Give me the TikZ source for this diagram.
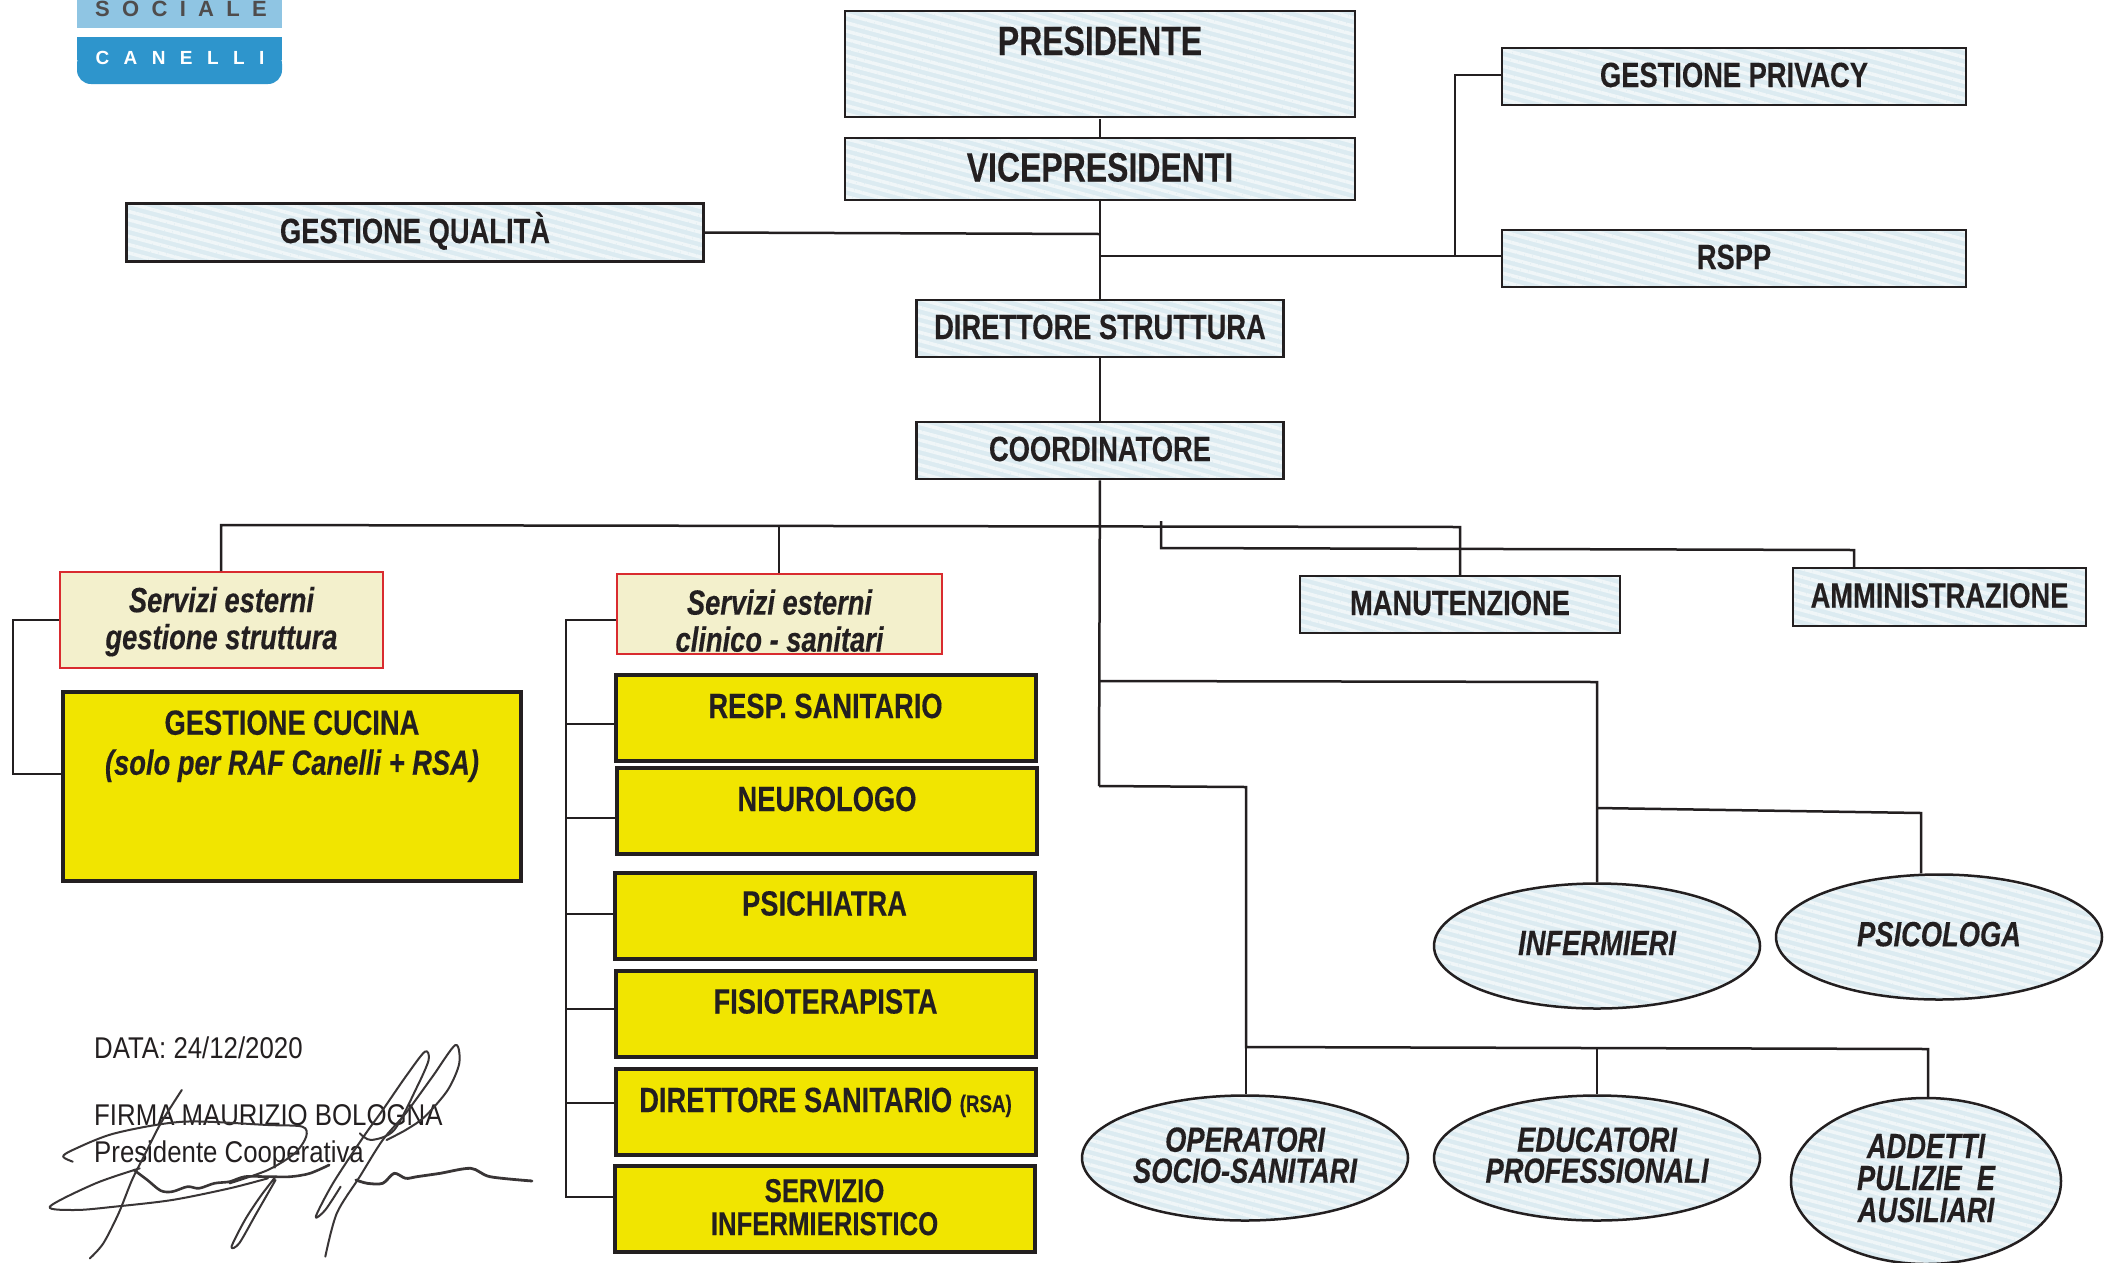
\documentclass[tikz,border=0pt]{standalone}
\usepackage{fontspec}
\setmainfont[FakeStretch=0.78, BoldFeatures={FakeBold=0.25}, BoldItalicFeatures={FakeBold=0.25}]{Liberation Sans}
\newfontfamily\plainfont[FakeStretch=0.86]{Liberation Sans}
\newfontfamily\logofont[LetterSpace=76]{Liberation Sans}
\newfontfamily\logotopfont[LetterSpace=56]{Liberation Sans}
\usetikzlibrary{shapes.geometric,patterns.meta}
\definecolor{pale}{HTML}{DCEBF1}
\definecolor{paler}{HTML}{F0F6F8}
\definecolor{gold}{HTML}{F1E500}
\definecolor{cream}{HTML}{F3F0CC}
\definecolor{redline}{HTML}{D92B2F}
\definecolor{ink}{HTML}{231F20}
\definecolor{logolight}{HTML}{8FC5E3}
\definecolor{logodark}{HTML}{2E95CC}
\tikzset{
  stripes/.style={preaction={fill=pale}, pattern={Lines[angle=-15,distance=8pt,line width=3.5pt]}, pattern color=paler},
  bluebox/.style={draw=ink, line width=2.5pt, stripes, text=ink, inner sep=0pt, font=\fontsize{35}{40}\selectfont\bfseries, text height=25pt, text depth=4pt},
  goldbox/.style={draw=ink, line width=4pt, fill=gold, text=ink, inner sep=0pt, minimum width=420pt, minimum height=86pt, font=\fontsize{35}{35}\selectfont\bfseries, text height=43pt, text depth=43pt},
  extbox/.style={draw=redline, line width=2pt, fill=cream, text=ink, inner sep=0pt, align=center, font=\fontsize{35}{37}\selectfont\bfseries\itshape},
  staff/.style={draw=ink, ellipse, line width=2.5pt, stripes, text=ink, inner sep=0pt, align=center, minimum width=326pt, minimum height=125pt, font=\fontsize{35}{31}\selectfont\bfseries\itshape, execute at end node={\rule[-6pt]{0pt}{0pt}}},
  link/.style={draw=ink, line width=2.5pt},
  signline/.style={draw=ink!90, line width=2pt, line cap=round, line join=round},
  note/.style={anchor=west, text=ink, inner sep=0pt, font=\fontsize{30}{30}\plainfont},
}
\begin{document}
\begin{tikzpicture}[x=1pt, y=-1pt]
\useasboundingbox (0,0) rectangle (2107,1262);
\clip (0,0) rectangle (2107,1262);
\fill[white] (0,0) rectangle (2107,1262);

% logo
\fill[logolight] (77,0) rectangle (282,28);
\fill[logodark, rounded corners=14pt] (77,50) -- (77,84) -- (282,84) -- (282,50) -- cycle;
\fill[logodark] (77,37) rectangle (282,60);
\node[text=ink!80, font=\fontsize{22}{22}\logotopfont\bfseries] (logotop) at (181,9) {SOCIALE};
\node[text=white, font=\fontsize{19}{19}\logofont\bfseries] (logobot) at (180,58) {CANELLI};

% top of the chart
\node[bluebox, minimum width=510pt, minimum height=106pt, font=\fontsize{41}{44}\selectfont\bfseries, text height=44pt, text depth=62pt] (president) at (1100,64) {PRESIDENTE};
\node[bluebox, minimum width=510pt, minimum height=62pt, font=\fontsize{41}{44}\selectfont\bfseries, text height=29pt, text depth=4pt] (vice) at (1100,169) {VICEPRESIDENTI};
\node[bluebox, minimum width=464pt, minimum height=57pt] (privacy) at (1734,76.5) {GESTIONE PRIVACY};
\node[bluebox, minimum width=464pt, minimum height=57pt] (rspp) at (1734,258.5) {RSPP};
\node[bluebox, minimum width=577pt, minimum height=58pt] (quality) at (415,232.5) {GESTIONE QUALITÀ};
\node[bluebox, minimum width=367pt, minimum height=57pt] (director) at (1100,328.5) {DIRETTORE STRUTTURA};
\node[bluebox, minimum width=367pt, minimum height=57pt] (coord) at (1100,450.5) {COORDINATORE};
\node[bluebox, minimum width=320pt, minimum height=57pt] (maint) at (1460,604.5) {MANUTENZIONE};
\node[bluebox, minimum width=293pt, minimum height=58pt] (admin) at (1939.5,597) {AMMINISTRAZIONE};

% external services
\node[extbox, minimum width=323pt, minimum height=96pt] (extstruct) at (221.5,620) {\rule{0pt}{28.6pt}Servizi esterni\\gestione struttura};
\node[extbox, minimum width=325pt, minimum height=80pt] (extclin) at (779.5,614) {\rule{0pt}{38.6pt}Servizi esterni\\clinico - sanitari};
\node[goldbox, minimum width=458pt, minimum height=189pt, align=center, font=\fontsize{35}{40}\selectfont\bfseries, text height=, text depth=, execute at end node={\rule[-8pt]{0pt}{0pt}}] (kitchen) at (292,786.5) {GESTIONE CUCINA\\\textit{(solo per RAF Canelli + RSA)}\\~\\~};
\node[goldbox] (resp) at (825.5,718) {RESP. SANITARIO};
\node[goldbox] (neuro) at (827,811) {NEUROLOGO};
\node[goldbox] (psych) at (824.5,915.5) {PSICHIATRA};
\node[goldbox] (physio) at (825.5,1013.5) {FISIOTERAPISTA};
\node[goldbox] (health) at (825.5,1112) {DIRETTORE SANITARIO {\fontsize{24}{24}\selectfont(RSA)}};
\node[goldbox, align=center, text height=, text depth=, font=\fontsize{33}{33}\selectfont\bfseries, execute at end node={\rule[-3pt]{0pt}{0pt}}] (nursing) at (824.5,1208.5) {SERVIZIO\\INFERMIERISTICO};

% staff
\node[staff] (nurses) at (1597,946) {INFERMIERI};
\node[staff] (psychol) at (1939,937) {PSICOLOGA};
\node[staff] (oss) at (1245,1158) {OPERATORI\\SOCIO-SANITARI};
\node[staff] (edu) at (1597,1158) {EDUCATORI\\PROFESSIONALI};
\node[staff, minimum width=270pt, minimum height=166pt, font=\fontsize{35}{32}\selectfont\bfseries\itshape] (cleaners) at (1926,1181) {ADDETTI\\PULIZIE\ \ E\\AUSILIARI};

% junctions
\coordinate (jquality) at (1100,234);
\coordinate (jstaff) at (1100,256);
\coordinate (jprivacy) at (1455,256);
\coordinate (jpriv) at (1455,75);
\coordinate (jleft) at (221,525);
\coordinate (jmid) at (779,526);
\coordinate (jmaint) at (1460,527);
\coordinate (jstub) at (1161,521);
\coordinate (jadm) at (1161,548);
\coordinate (jadmr) at (1854,550);
\coordinate (jnurse) at (1099,681);
\coordinate (jnurser) at (1597,682);
\coordinate (jpsy) at (1597,808);
\coordinate (jpsyr) at (1921,813);
\coordinate (josss) at (1099,786);
\coordinate (jossr) at (1246,787);
\coordinate (jbar) at (1246,1047);
\coordinate (jbarmid) at (1597,1047);
\coordinate (jbarr) at (1928,1049);
\coordinate (jstruct) at (13,620);
\coordinate (jkitchen) at (13,774);
\coordinate (jclin) at (566,620);
\coordinate (jresp) at (566,724);
\coordinate (jneuro) at (566,818);
\coordinate (jpsych) at (566,914);
\coordinate (jphysio) at (566,1009);
\coordinate (jhealth) at (566,1103);
\coordinate (jnursing) at (566,1197);

% connectors
\draw[link] (president) -- (vice);
\draw[link] (vice) -- (director);
\draw[link] (quality.east) -- (jquality);
\draw[link] (jstaff) -- (rspp.west |- jstaff);
\draw[link] (jprivacy) -- (jpriv) -- (privacy.west |- jpriv);
\draw[link] (director) -- (coord);
\draw[link] (coord) -- (josss);
\draw[link] (extstruct.north -| jleft) -- (jleft) -- (jmaint) -- (maint.north -| jmaint);
\draw[link] (jmid) -- (extclin.north -| jmid);
\draw[link] (jstub) -- (jadm) -- (jadmr) -- (admin.north -| jadmr);
\draw[link] (jnurse) -- (jnurser) -- (nurses.north);
\draw[link] (jpsy) -- (jpsyr) -- (psychol.north -| jpsyr);
\draw[link] (josss) -- (jossr) -- (jbar) -- (jbarr) -- (cleaners.north -| jbarr);
\draw[link] (jbar) -- (oss.north -| jbar);
\draw[link] (jbarmid) -- (edu.north);
\draw[link] (extstruct.west |- jstruct) -- (jstruct) -- (jkitchen) -- (kitchen.west |- jkitchen);
\draw[link] (extclin.west |- jclin) -- (jclin) -- (jnursing) -- (nursing.west |- jnursing);
\draw[link] (jresp) -- (resp.west |- jresp);
\draw[link] (jneuro) -- (neuro.west |- jneuro);
\draw[link] (jpsych) -- (psych.west |- jpsych);
\draw[link] (jphysio) -- (physio.west |- jphysio);
\draw[link] (jhealth) -- (health.west |- jhealth);

% date and signature
\node[note] (date) at (94,1048) {DATA: 24/12/2020};
\node[note] (firma) at (94,1115) {FIRMA MAURIZIO BOLOGNA};
\node[note] (role) at (94,1155) {Presidente Cooperativa};
\begin{scope}[shift={(0,980)}, x=0.3827pt, y=-0.3333pt]
\draw[signline] plot[smooth] coordinates {(365,565) (250,610) (130,680) (200,690) (300,680) (450,660) (600,625) (700,595)};
\draw[signline, line width=2.6pt] plot[smooth] coordinates {(350,570) (385,600) (420,632) (450,635) (490,620) (520,625) (560,610) (600,605) (640,590) (700,590) (760,590) (810,580) (860,555)};
\draw[signline] plot[smooth] coordinates {(190,545) (165,530) (190,510) (300,460) (480,425) (700,435) (790,440) (800,470) (770,520) (700,570) (600,610)};
\draw[signline] plot[smooth] coordinates {(475,330) (420,430) (380,520) (345,600) (310,700) (270,790) (235,835)};
\draw[signline] plot[smooth] coordinates {(720,590) (680,650) (640,720) (605,800) (625,790) (670,700) (720,600)};
\draw[signline] plot[smooth] coordinates {(940,460) (970,480) (1030,450) (1090,320) (1120,240) (1110,215) (1060,290) (1000,390) (950,470) (870,610) (825,710) (850,690) (890,620)};
\draw[signline] plot[smooth] coordinates {(1010,480) (1060,450) (1110,410) (1170,330) (1200,250) (1190,195) (1130,290) (1060,400) (1000,480) (940,590) (880,700) (850,830)};
\draw[signline, line width=2.8pt] plot[smooth] coordinates {(930,600) (960,610) (1000,610) (1030,580) (1060,595) (1090,590) (1150,580) (1230,565) (1280,590) (1390,603)};
\end{scope}
\end{tikzpicture}
\end{document}
